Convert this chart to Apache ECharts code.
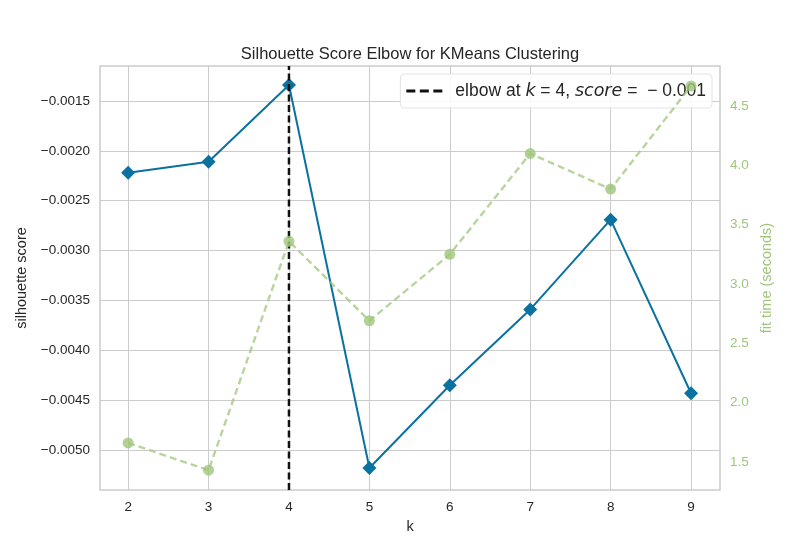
<!DOCTYPE html>
<html>
<head>
<meta charset="utf-8">
<script src="https://cdn.jsdelivr.net/npm/echarts@6/dist/echarts.min.js"></script>
<style>
	html, body { margin: 0; padding: 0; background: #fff; }
	#chart { width: 800px; height: 550px; }
</style>
</head>
<body>
<div id="chart"></div>
<script>
// values
const kValues = [2, 3, 4, 5, 6, 7, 8, 9];
const silhouetteScores = [-0.00222, -0.00211, -0.00134, -0.00518, -0.00435, -0.00359, -0.00269, -0.00443];
const fitTimes = [1.66, 1.43, 3.36, 2.69, 3.25, 4.10, 3.80, 4.67];
const elbowK = 4;
const elbowScore = '\u2212 0.001';

const kTicks = [2, 3, 4, 5, 6, 7, 8, 9];
const scoreTicks = [-0.0050, -0.0045, -0.0040, -0.0035, -0.0030, -0.0025, -0.0020, -0.0015];
const timeTicks = [1.5, 2.0, 2.5, 3.0, 3.5, 4.0, 4.5];

const BLUE = '#0A71A1';
const GREEN = '#9FC77B';
const GRID = '#cccccc';
const FONT = '"Liberation Sans", Arial, sans-serif';
const MATH = '"DejaVu Sans", sans-serif';

const scoreMin = -0.0054, scoreMax = -0.00115;

const fmtScore = (v) => (v < 0 ? '\u2212' : '') + Math.abs(v).toFixed(4);

// three short dashes, used as the legend key of the elbow line
const dashIcon = 'path://M0,0h9v3h-9zM13.5,0h9v3h-9zM27,0h9v3h-9z';

const myChart = echarts.init(document.getElementById('chart'));

const option = {
	animation: false,
	backgroundColor: '#fff',
	textStyle: { fontFamily: FONT },
	title: {
		text: 'Silhouette Score Elbow for KMeans Clustering',
		left: 405,
		textAlign: 'center',
		top: 41,
		textStyle: { fontSize: 16.5, fontWeight: 'normal', color: '#262626', fontFamily: FONT }
	},
	grid: { left: 100, right: 80, top: 66, bottom: 60, show: true, borderColor: GRID, borderWidth: 1.5 },
	legend: {
		top: 74,
		right: 88,
		backgroundColor: 'rgba(255,255,255,0.85)',
		borderColor: '#e3e3e3',
		borderWidth: 1,
		borderRadius: 4,
		padding: [8, 6, 8, 6],
		itemWidth: 36,
		itemHeight: 3,
		itemGap: 14,
		data: [{ name: 'elbow', icon: dashIcon, itemStyle: { color: '#111' } }],
		formatter: () => '{n|elbow at }{i|k}{n| = ' + elbowK + ', }{i|score}{n| =  ' + elbowScore + '}',
		textStyle: {
			fontSize: 17.5,
			color: '#262626',
			padding: [0, 0, 0, 8],
			rich: {
				n: { fontSize: 17.5, fontFamily: FONT, color: '#262626' },
				i: { fontSize: 17.5, fontFamily: MATH, fontStyle: 'italic', color: '#262626' }
			}
		}
	},
	xAxis: {
		type: 'value',
		min: 1.65,
		max: 9.36,
		name: 'k',
		nameLocation: 'middle',
		nameGap: 29,
		nameTextStyle: { fontSize: 14.5, color: '#262626' },
		axisLine: { show: false },
		axisTick: { show: false, customValues: kTicks },
		axisLabel: { customValues: kTicks, fontSize: 13.5, color: '#262626', margin: 10 },
		splitLine: { show: true, lineStyle: { color: GRID, width: 1 } }
	},
	yAxis: [
		{
			type: 'value',
			min: scoreMin,
			max: scoreMax,
			name: 'silhouette score',
			nameLocation: 'middle',
			nameGap: 64,
			nameTextStyle: { fontSize: 14.5, color: '#262626' },
			axisLine: { show: false },
			axisTick: { show: false, customValues: scoreTicks },
			axisLabel: { customValues: scoreTicks, fontSize: 13.5, color: '#262626', margin: 10, formatter: fmtScore },
			splitLine: { show: true, lineStyle: { color: GRID, width: 1 } }
		},
		{
			type: 'value',
			min: 1.263,
			max: 4.838,
			position: 'right',
			name: 'fit time (seconds)',
			nameLocation: 'middle',
			nameGap: 34,
			nameTextStyle: { fontSize: 14.5, color: GREEN },
			axisLine: { show: false },
			axisTick: { show: false, customValues: timeTicks },
			axisLabel: { customValues: timeTicks, fontSize: 13.5, color: GREEN, margin: 10, formatter: (v) => v.toFixed(1) },
			splitLine: { show: false }
		}
	],
	series: [
		{
			name: 'score',
			type: 'line',
			yAxisIndex: 0,
			data: kValues.map((k, i) => [k, silhouetteScores[i]]),
			symbol: 'diamond',
			symbolSize: 14,
			lineStyle: { color: BLUE, width: 2 },
			itemStyle: { color: BLUE },
			z: 3
		},
		{
			name: 'elbow',
			type: 'line',
			yAxisIndex: 0,
			data: [[elbowK, scoreMin], [elbowK, scoreMax]],
			symbol: 'none',
			lineStyle: { color: '#111', width: 2.5, type: [7, 3.5] },
			itemStyle: { color: '#111' },
			z: 4
		},
		{
			name: 'fit time',
			type: 'line',
			yAxisIndex: 1,
			data: kValues.map((k, i) => [k, fitTimes[i]]),
			symbol: 'circle',
			symbolSize: 11,
			lineStyle: { color: GREEN, width: 2.4, type: [7, 4], opacity: 0.75 },
			itemStyle: { color: GREEN, opacity: 0.8 },
			z: 5
		}
	]
};

myChart.setOption(option);
</script>
</body>
</html>
